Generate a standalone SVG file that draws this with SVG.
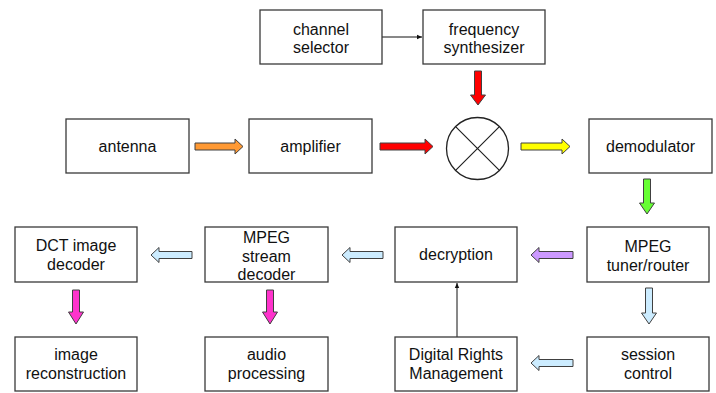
<svg xmlns="http://www.w3.org/2000/svg" width="716" height="393" viewBox="0 0 716 393">
<style>
.box{fill:#fff;stroke:#3a3a3a;stroke-width:1.3}
.t{font-family:"Liberation Sans",Arial,sans-serif;font-size:16px;fill:#111;text-anchor:middle}
.ba{stroke:#404040;stroke-width:1;stroke-linejoin:miter}
.thin{stroke:#111;stroke-width:1;fill:none}
.or{fill:#FF9933}.rd{fill:#FF0000}.ye{fill:#FFFF00}.gr{fill:#66FF33}.pu{fill:#CC99FF}.lb{fill:#CCECFF}.pk{fill:#FF33CC}
</style>
<defs>
<marker id="ah" markerWidth="6" markerHeight="6" refX="5" refY="3" orient="auto" markerUnits="userSpaceOnUse">
<path d="M0,0.8 L5,3 L0,5.2 Z" fill="#111"/>
</marker>
</defs>
<rect width="716" height="393" fill="#fff"/>
<g id="connectors">
<path class="ba or" d="M195,143 H235 V139 L243,146.5 L235,154 V150 H195 Z"/>
<path class="ba rd" d="M380,143 H425 V139 L433,146.5 L425,154 V150 H380 Z"/>
<path class="ba ye" d="M521,143 H562 V139 L570,146.5 L562,154 V150 H521 Z"/>
<path class="ba rd" d="M474.5,71 V95 H470.5 L478,105 L485.5,95 H481.5 V71 Z"/>
<path class="ba gr" d="M643.5,179 V203 H639.5 L647,214 L654.5,203 H650.5 V179 Z"/>
<path class="ba pu" d="M573,251.5 H539 V247.5 L531,255 L539,262.5 V258.5 H573 Z"/>
<path class="ba lb" d="M383,251.5 H350 V247.5 L342,255 L350,262.5 V258.5 H383 Z"/>
<path class="ba lb" d="M192,251.5 H159 V247.5 L151,255 L159,262.5 V258.5 H192 Z"/>
<path class="ba lb" d="M645.5,288 V313 H641.5 L649,324 L656.5,313 H652.5 V288 Z"/>
<path class="ba lb" d="M573,359.5 H539 V355.5 L531,363 L539,370.5 V366.5 H573 Z"/>
<path class="ba pk" d="M72.5,290 V312 H68.5 L76,324 L83.5,312 H79.5 V290 Z"/>
<path class="ba pk" d="M266.5,290 V312 H262.5 L270,324 L277.5,312 H273.5 V290 Z"/>
<line class="thin" x1="382" y1="37" x2="422" y2="37" marker-end="url(#ah)"/>
<line class="thin" x1="457" y1="337" x2="457" y2="283" marker-end="url(#ah)"/>
</g>
<g id="channel-selector"><rect class="box" x="260" y="10" width="122" height="54"/><text class="t" x="321" y="34.5">channel</text><text class="t" x="321" y="53">selector</text></g>
<g id="frequency-synthesizer"><rect class="box" x="423" y="10" width="122" height="54"/><text class="t" x="484" y="34.5">frequency</text><text class="t" x="484" y="53">synthesizer</text></g>
<g id="antenna"><rect class="box" x="66" y="119" width="123" height="54"/><text class="t" x="127.5" y="152">antenna</text></g>
<g id="amplifier"><rect class="box" x="249" y="119" width="123" height="54"/><text class="t" x="310.5" y="152">amplifier</text></g>
<g id="mixer"><circle cx="477.5" cy="148.5" r="31" fill="#fff" stroke="#222" stroke-width="1.3"/><path d="M455.6,126.6 L499.4,170.4 M499.4,126.6 L455.6,170.4" stroke="#222" stroke-width="1.2"/></g>
<g id="demodulator"><rect class="box" x="589" y="119" width="123" height="54"/><text class="t" x="650.5" y="152">demodulator</text></g>
<g id="dct-image-decoder"><rect class="box" x="15" y="227" width="122" height="55"/><text class="t" x="76" y="251">DCT image</text><text class="t" x="76" y="270">decoder</text></g>
<g id="mpeg-stream-decoder"><rect class="box" x="205" y="227" width="123" height="55"/><text class="t" x="266.5" y="243">MPEG</text><text class="t" x="266.5" y="261.5">stream</text><text class="t" x="266.5" y="280">decoder</text></g>
<g id="decryption"><rect class="box" x="395" y="227" width="122" height="55"/><text class="t" x="456" y="260">decryption</text></g>
<g id="mpeg-tuner-router"><rect class="box" x="587" y="227" width="122" height="55"/><text class="t" x="648" y="252">MPEG</text><text class="t" x="648" y="271">tuner/router</text></g>
<g id="image-reconstruction"><rect class="box" x="15" y="337" width="122" height="54"/><text class="t" x="76" y="360">image</text><text class="t" x="76" y="379">reconstruction</text></g>
<g id="audio-processing"><rect class="box" x="205" y="337" width="123" height="54"/><text class="t" x="266.5" y="360">audio</text><text class="t" x="266.5" y="379">processing</text></g>
<g id="digital-rights-management"><rect class="box" x="395" y="337" width="122" height="54"/><text class="t" x="456" y="360">Digital Rights</text><text class="t" x="456" y="379">Management</text></g>
<g id="session-control"><rect class="box" x="587" y="337" width="122" height="54"/><text class="t" x="648" y="360">session</text><text class="t" x="648" y="379">control</text></g>
</svg>
